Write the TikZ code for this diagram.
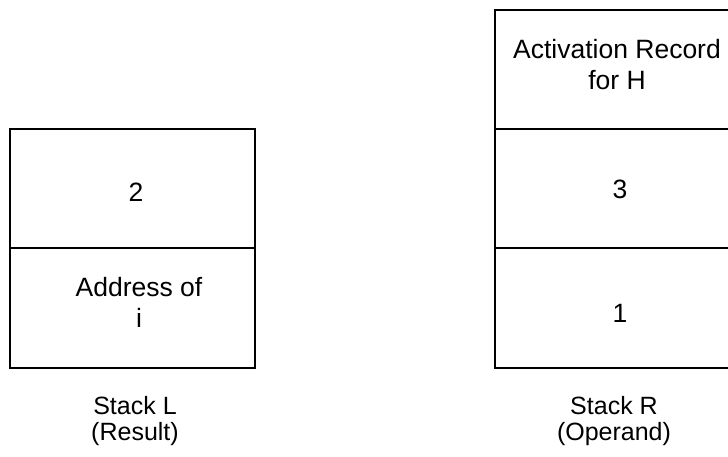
\documentclass[tikz,border=0pt]{standalone}
\usepackage{fontspec}
\setmainfont{Liberation Sans}
\begin{document}
\begin{tikzpicture}[x=1pt,y=-1pt,
  cell/.style={draw=black, line width=2pt, minimum width=245pt, minimum height=119.5pt, inner sep=0pt, align=center},
  celltext/.style={align=center, inner sep=0pt, font=\fontsize{26.5}{31}\selectfont},
  caption/.style={align=center, font=\fontsize{25}{26}\selectfont}]
\useasboundingbox (0,0) rectangle (728,456);
\clip (0,0) rectangle (728,456);
% left stack
\node[cell] (l1) at (132.5,188.5) {};
\node[cell] (l2) at (132.5,308) {};
\node[celltext] (t2) at (136,192) {2};
\node[celltext] (tad) at (139,302) {Address of\\i};
\node[caption] (lc) at (135,421) {Stack L\\(Result)};
% right stack
\node[cell] (r1) at (617.5,69.5) {};
\node[cell] (r2) at (617.5,188.5) {};
\node[cell] (r3) at (617.5,308) {};
\node[celltext] (tar) at (617,65) {Activation Record\\for H};
\node[celltext] (t3) at (620,189) {3};
\node[celltext] (t1) at (620,313) {1};
\node[caption] (rc) at (614,421) {Stack R\\(Operand)};
\end{tikzpicture}
\end{document}
